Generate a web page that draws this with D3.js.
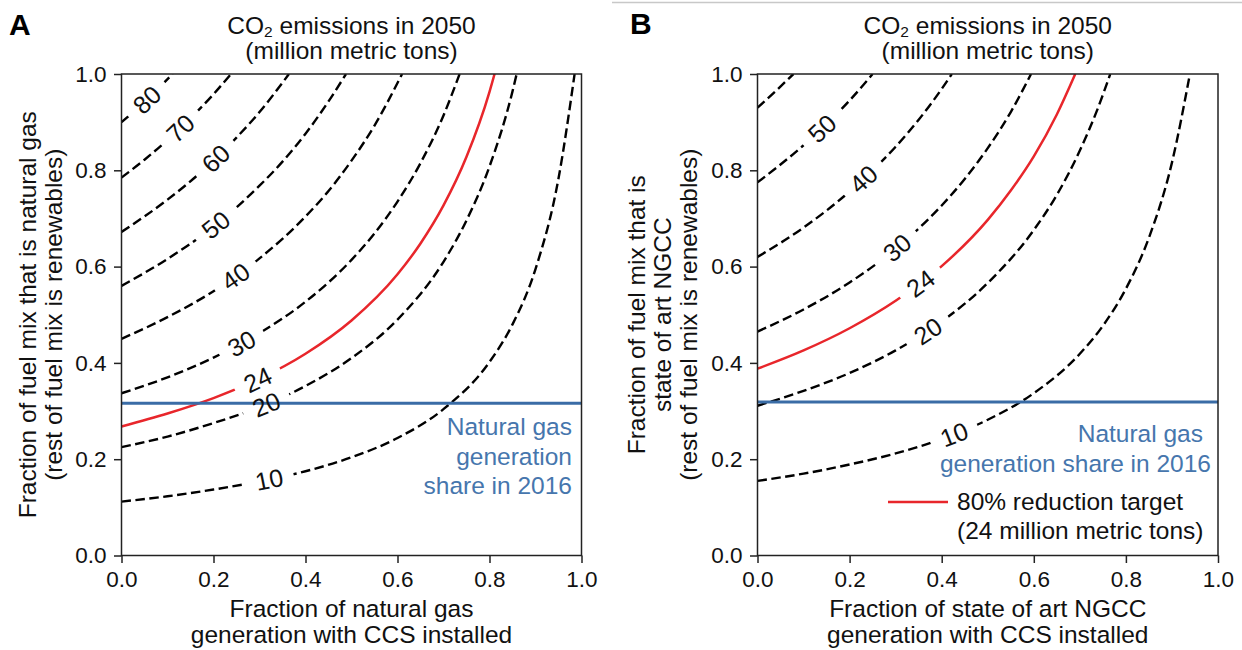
<!DOCTYPE html>
<html>
<head>
<meta charset="utf-8">
<script src="https://cdn.jsdelivr.net/npm/d3@7"></script>
<style>
  body { margin: 0; background: #fff; }
  svg text { font-family: "Liberation Sans", Arial, sans-serif; fill: #111; }
</style>
</head>
<body>
<div class="container"></div>
<script>
// ---- data ----
const xTicks = [0, 0.2, 0.4, 0.6, 0.8, 1.0];
const yTicks = [0, 0.2, 0.4, 0.6, 0.8, 1.0];

const levelsA = [80, 70, 60, 50, 40, 30, 24, 20, 10];
const curvesA = [
  [[0,0.900],[0.05,0.942],[0.111,1.0]],
  [[0,0.785],[0.05,0.822],[0.1,0.863],[0.15,0.908],[0.2,0.958],[0.238,1.0]],
  [[0,0.672],[0.1,0.739],[0.2,0.820],[0.25,0.868],[0.3,0.921],[0.35,0.982],[0.364,1.0]],
  [[0,0.560],[0.1,0.616],[0.2,0.683],[0.3,0.768],[0.35,0.818],[0.4,0.876],[0.45,0.943],[0.488,1.0]],
  [[0,0.450],[0.1,0.495],[0.2,0.549],[0.3,0.617],[0.4,0.704],[0.45,0.757],[0.5,0.820],[0.55,0.893],[0.61,1.0]],
  [[0,0.337],[0.1,0.370],[0.2,0.411],[0.3,0.462],[0.4,0.527],[0.5,0.614],[0.55,0.669],[0.6,0.735],[0.65,0.815],[0.7,0.914],[0.735,1.0]],
  [[0,0.268],[0.1,0.295],[0.2,0.327],[0.3,0.367],[0.4,0.419],[0.5,0.488],[0.6,0.584],[0.65,0.648],[0.7,0.727],[0.75,0.828],[0.8,0.963],[0.811,1.0]],
  [[0,0.225],[0.1,0.247],[0.2,0.275],[0.3,0.308],[0.4,0.352],[0.5,0.410],[0.6,0.490],[0.7,0.610],[0.75,0.696],[0.8,0.808],[0.85,0.964],[0.859,1.0]],
  [[0,0.112],[0.1,0.123],[0.2,0.137],[0.3,0.154],[0.4,0.175],[0.5,0.204],[0.6,0.244],[0.7,0.304],[0.8,0.402],[0.85,0.480],[0.9,0.595],[0.95,0.783],[0.985,1.0]]
];
const labelXA = [0.055, 0.128, 0.205, 0.205, 0.248, 0.261, 0.296, 0.315, 0.321];
const shareA = 0.316;

const levelsB = [60, 50, 40, 30, 24, 20, 10];
const curvesB = [
  [[0,0.930],[0.04,0.965],[0.078,1.0]],
  [[0,0.775],[0.05,0.812],[0.1,0.852],[0.15,0.896],[0.2,0.945],[0.25,1.0]],
  [[0,0.620],[0.1,0.681],[0.2,0.756],[0.3,0.849],[0.35,0.905],[0.4,0.969],[0.422,1.0]],
  [[0,0.465],[0.1,0.511],[0.2,0.567],[0.3,0.637],[0.4,0.727],[0.45,0.782],[0.5,0.846],[0.55,0.921],[0.594,1.0]],
  [[0,0.388],[0.1,0.426],[0.2,0.472],[0.3,0.529],[0.4,0.601],[0.5,0.697],[0.55,0.758],[0.6,0.829],[0.65,0.916],[0.69,1.0]],
  [[0,0.311],[0.1,0.342],[0.2,0.379],[0.3,0.426],[0.4,0.486],[0.5,0.566],[0.6,0.676],[0.65,0.749],[0.7,0.841],[0.74,0.931],[0.766,1.0]],
  [[0,0.155],[0.1,0.170],[0.2,0.189],[0.3,0.212],[0.4,0.242],[0.5,0.282],[0.6,0.337],[0.7,0.419],[0.75,0.477],[0.8,0.554],[0.85,0.660],[0.9,0.816],[0.939,1.0]]
];
const labelXB = [null, 0.14, 0.23, 0.303, 0.354, 0.37, 0.427];
const shareB = 0.319;

const targetLevel = 24;

// ---- drawing ----
const RED = "#e8262b", BLUE = "#3a6ca6", BLUE_TEXT = "#4676ad";
const FS = 24.5;
const svg = d3.select(".container").append("svg")
  .attr("width", 1242).attr("height", 650);

// thin separator at the top of panel B
svg.append("line").attr("x1", 612).attr("x2", 1242).attr("y1", 2.5).attr("y2", 2.5)
  .attr("stroke", "#c8c8c8").attr("stroke-width", 1.5);

const panels = [
  { id: "A", left: 121.5, right: 581.5, levels: levelsA, curves: curvesA, labelX: labelXA, share: shareA,
    letterX: 9, letterY: 35,
    xlabel: ["Fraction of natural gas", "generation with CCS installed"],
    ylabel: ["Fraction of fuel mix that is natural gas", "(rest of fuel mix is renewables)"], ylabelX: 36,
    shareText: [["Natural gas", 572, 435], ["generation", 572, 464.5], ["share in 2016", 572, 494]] },
  { id: "B", left: 757.5, right: 1218, levels: levelsB, curves: curvesB, labelX: labelXB, share: shareB,
    letterX: 630, letterY: 34,
    xlabel: ["Fraction of state of art NGCC", "generation with CCS installed"],
    ylabel: ["Fraction of fuel mix that is", "state of art NGCC", "(rest of fuel mix is renewables)"], ylabelX: 645,
    shareText: [["Natural gas", 1203, 442], ["generation share in 2016", 1211, 471.5]],
    legend: true }
];

panels.forEach(drawPanel);

function drawPanel(p) {
  const top = 74, bottom = 555.5;
  const x = d3.scaleLinear().domain([0, 1]).range([p.left, p.right]);
  const y = d3.scaleLinear().domain([0, 1]).range([bottom, top]);
  const cx = (p.left + p.right) / 2;

  const defs = svg.append("defs");
  defs.append("clipPath").attr("id", "clip" + p.id)
    .append("rect").attr("x", p.left).attr("y", top)
    .attr("width", p.right - p.left).attr("height", bottom - top);
  const mask = defs.append("mask").attr("id", "mask" + p.id)
    .attr("maskUnits", "userSpaceOnUse").attr("x", 0).attr("y", 0).attr("width", 1242).attr("height", 650);
  mask.append("rect").attr("width", 1242).attr("height", 650).attr("fill", "#fff");

  const line = d3.line().x(d => x(d[0])).y(d => y(d[1])).curve(d3.curveMonotoneX);

  const g = svg.append("g").attr("clip-path", `url(#clip${p.id})`);
  const lines = g.append("g").attr("mask", `url(#mask${p.id})`);

  const paths = lines.selectAll("path").data(p.curves).join("path")
    .attr("d", line)
    .attr("fill", "none")
    .attr("stroke", (d, i) => p.levels[i] === targetLevel ? RED : "#000")
    .attr("stroke-width", (d, i) => p.levels[i] === targetLevel ? 2.5 : 2.4)
    .attr("stroke-dasharray", (d, i) => p.levels[i] === targetLevel ? null : "9.5,4.5");

  // inline contour labels
  const labels = svg.append("g");
  paths.each(function(d, i) {
    const lx = p.labelX[i];
    if (lx == null) return;
    const node = this, L = node.getTotalLength(), tx = x(lx);
    let lo = 0, hi = L;
    for (let k = 0; k < 40; k++) {
      const mid = (lo + hi) / 2;
      if (node.getPointAtLength(mid).x < tx) lo = mid; else hi = mid;
    }
    const s = (lo + hi) / 2;
    const pt = node.getPointAtLength(s);
    const a = node.getPointAtLength(Math.max(0, s - 4)), b = node.getPointAtLength(Math.min(L, s + 4));
    const ang = Math.atan2(b.y - a.y, b.x - a.x) * 180 / Math.PI;
    const t = labels.append("text")
      .attr("transform", `translate(${pt.x},${pt.y}) rotate(${ang})`)
      .attr("text-anchor", "middle").attr("dy", "0.36em")
      .attr("font-size", 25)
      .text(p.levels[i]);
    const w = t.node().getComputedTextLength();
    mask.append("rect")
      .attr("transform", `translate(${pt.x},${pt.y}) rotate(${ang})`)
      .attr("x", -w / 2 - 11).attr("y", -12).attr("width", w + 22).attr("height", 24)
      .attr("fill", "#000");
  });

  // 2016 natural gas share
  g.append("line")
    .attr("x1", p.left).attr("x2", p.right)
    .attr("y1", y(p.share)).attr("y2", y(p.share))
    .attr("stroke", BLUE).attr("stroke-width", 3);
  p.shareText.forEach(([txt, tx, ty]) => {
    svg.append("text").attr("x", tx).attr("y", ty).attr("text-anchor", "end")
      .attr("font-size", FS).style("fill", BLUE_TEXT).text(txt);
  });

  // axes
  const gx = svg.append("g").attr("transform", `translate(0,${bottom})`)
    .call(d3.axisBottom(x).tickValues(xTicks).tickFormat(d3.format(".1f"))
      .tickSize(7.5).tickPadding(8.5).tickSizeOuter(0));
  const gy = svg.append("g").attr("transform", `translate(${p.left},0)`)
    .call(d3.axisLeft(y).tickValues(yTicks).tickFormat(d3.format(".1f"))
      .tickSize(7.5).tickPadding(7.5).tickSizeOuter(0));
  [gx, gy].forEach(ax => {
    ax.attr("font-size", null).attr("font-family", null);
    ax.select(".domain").remove();
    ax.selectAll("line").attr("stroke", "#222").attr("stroke-width", 1.5);
    ax.selectAll("text").attr("font-size", 22.5).style("fill", "#111");
  });

  // frame
  svg.append("rect").attr("x", p.left).attr("y", top)
    .attr("width", p.right - p.left).attr("height", bottom - top)
    .attr("fill", "none").attr("stroke", "#222").attr("stroke-width", 1.5);

  // title (two lines in one text element)
  const t1 = svg.append("text").attr("x", cx).attr("y", 33.5)
    .attr("text-anchor", "middle").attr("font-size", FS);
  t1.append("tspan").text("CO");
  t1.append("tspan").attr("font-size", 15.5).attr("dy", 3).text("2");
  t1.append("tspan").attr("dy", -3).text(" emissions in 2050");
  t1.append("tspan").attr("x", cx).attr("y", 59).text("(million metric tons)");

  // panel letter
  svg.append("text").attr("x", p.letterX).attr("y", p.letterY)
    .attr("font-size", 30).attr("font-weight", "bold").style("fill", "#000").text(p.id);

  // axis labels
  p.xlabel.forEach((txt, i) => {
    svg.append("text").attr("x", cx).attr("y", 617 + i * 26)
      .attr("text-anchor", "middle").attr("font-size", FS).text(txt);
  });
  const cy = (top + bottom) / 2;
  p.ylabel.forEach((txt, i) => {
    svg.append("text")
      .attr("transform", `translate(${p.ylabelX + i * 26},${cy}) rotate(-90)`)
      .attr("text-anchor", "middle").attr("font-size", FS).text(txt);
  });

  if (p.legend) {
    svg.append("line").attr("x1", 888).attr("x2", 948).attr("y1", 502).attr("y2", 502)
      .attr("stroke", RED).attr("stroke-width", 2.5);
    svg.append("text").attr("x", 957).attr("y", 510).attr("font-size", FS).text("80% reduction target");
    svg.append("text").attr("x", 957).attr("y", 539).attr("font-size", FS).text("(24 million metric tons)");
  }
}
</script>
</body>
</html>
